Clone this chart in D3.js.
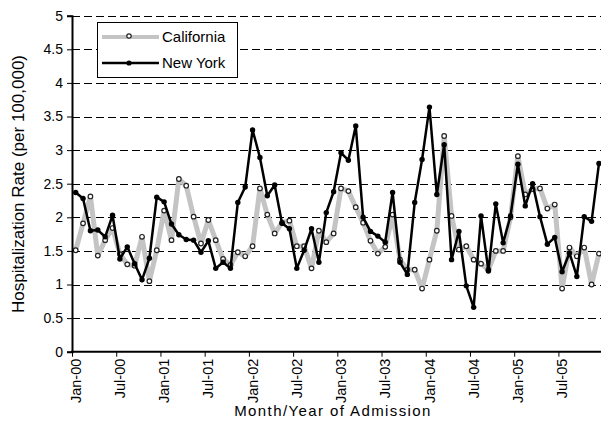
<!DOCTYPE html>
<html><head><meta charset="utf-8">
<script src="https://cdn.jsdelivr.net/npm/d3@7/dist/d3.min.js"></script>
<style>
html,body{margin:0;padding:0;background:#fff;}
svg{display:block;font-family:"Liberation Sans",Arial,sans-serif;}
</style>
</head><body>
<svg id="chart" width="601" height="446"></svg>
<script>
const monthNames = ["Jan","Feb","Mar","Apr","May","Jun","Jul","Aug","Sep","Oct","Nov","Dec"];
const years = ["00","01","02","03","04","05"];
const categories = [];
years.forEach(y => monthNames.forEach(m => categories.push(m + "-" + y)));
const tickLabels = ["Jan-00","Jul-00","Jan-01","Jul-01","Jan-02","Jul-02","Jan-03","Jul-03","Jan-04","Jul-04","Jan-05","Jul-05"];
const yTicks = [0,0.5,1,1.5,2,2.5,3,3.5,4,4.5,5];

const california = [1.51,1.91,2.31,1.43,1.66,1.84,1.45,1.30,1.28,1.71,1.05,1.51,
                    2.10,1.66,2.57,2.47,2.01,1.61,1.96,1.66,1.38,1.29,1.48,1.42,
                    1.57,2.43,2.04,1.76,1.92,1.95,1.57,1.57,1.24,1.80,1.63,1.76,
                    2.43,2.39,2.15,1.92,1.65,1.46,1.56,2.04,1.37,1.22,1.22,0.94,
                    1.37,1.80,3.21,2.02,1.52,1.57,1.37,1.31,1.22,1.50,1.50,2.00,
                    2.91,2.34,2.42,2.43,2.13,2.19,0.94,1.55,1.42,1.55,1.00,1.46];
const newYork    = [2.37,2.28,1.80,1.81,1.71,2.03,1.38,1.56,1.31,1.07,1.39,2.30,
                    2.23,1.90,1.74,1.67,1.66,1.48,1.65,1.24,1.33,1.24,2.22,2.45,
                    3.30,2.89,2.32,2.48,1.91,1.83,1.24,1.51,1.83,1.33,2.07,2.38,
                    2.96,2.85,3.36,2.00,1.79,1.72,1.63,2.37,1.33,1.15,2.22,2.86,
                    3.64,2.34,3.08,1.37,1.79,0.98,0.66,2.02,1.20,2.20,1.62,2.02,
                    2.79,2.17,2.50,2.01,1.60,1.70,1.19,1.47,1.12,2.01,1.94,2.80];

const svg = d3.select("#chart");
const pLeft = 72, pTop = 15.7, pBottom = 351.7, pRight = 72 + 72*7.37;

const x = d3.scaleBand().domain(categories).range([pLeft, pRight]).padding(0);
const xb = d3.scaleLinear().domain([0, categories.length]).range([pLeft, pRight]);
const y = d3.scaleLinear().domain([0, 5]).range([pBottom, pTop]);
const cx = c => x(c) + x.bandwidth()/2;

// gridlines
svg.append("g").selectAll("line").data(yTicks.filter(v => v > 0)).join("line")
  .attr("x1", pLeft).attr("x2", pRight)
  .attr("y1", d => Math.round(y(d)) + 0.5).attr("y2", d => Math.round(y(d)) + 0.5)
  .attr("stroke", "#000").attr("stroke-width", 1).attr("stroke-dasharray", "8,4");

const line = d3.line().x((d,i) => cx(categories[i])).y(d => y(d));

// California
svg.append("path").datum(california).attr("d", line)
  .attr("fill", "none").attr("stroke", "#c4c4c4").attr("stroke-width", 5).attr("stroke-linejoin", "round");
svg.append("g").selectAll("circle").data(california).join("circle")
  .attr("cx", (d,i) => cx(categories[i])).attr("cy", d => y(d)).attr("r", 2.3)
  .attr("fill", "#fff").attr("stroke", "#222").attr("stroke-width", 1.2);

// New York
svg.append("path").datum(newYork).attr("d", line)
  .attr("fill", "none").attr("stroke", "#000").attr("stroke-width", 2.5).attr("stroke-linejoin", "round");
svg.append("g").selectAll("circle").data(newYork).join("circle")
  .attr("cx", (d,i) => cx(categories[i])).attr("cy", d => y(d)).attr("r", 2.7)
  .attr("fill", "#000");

// Y axis
const yAxis = svg.append("g").attr("transform", `translate(${pLeft},0)`)
  .call(d3.axisLeft(y).tickValues(yTicks).tickFormat(d3.format("")).tickSize(5).tickPadding(4));
yAxis.select(".domain").attr("stroke", "#000").attr("stroke-width", 2);
yAxis.selectAll(".tick line").attr("stroke", "#000").attr("stroke-width", 1);
yAxis.selectAll(".tick text").attr("font-size", 14).attr("fill", "#000")
  .attr("font-family", "Liberation Sans, Arial, sans-serif");

// X axis tick marks at category boundaries
const xTickG = svg.append("g").attr("transform", `translate(0,${pBottom})`)
  .call(d3.axisBottom(xb).tickValues(d3.range(0, 72, 6)).tickFormat("").tickSize(5));
xTickG.select(".domain").remove();
xTickG.selectAll(".tick line").attr("stroke", "#000").attr("stroke-width", 1);
svg.append("line").attr("x1", pLeft - 1).attr("x2", pRight).attr("y1", pBottom).attr("y2", pBottom)
  .attr("stroke", "#000").attr("stroke-width", 2);

// X labels at category centres
const xLab = svg.append("g").attr("transform", `translate(0,${pBottom})`)
  .call(d3.axisBottom(x).tickValues(tickLabels).tickSize(0));
xLab.select(".domain").remove();
xLab.selectAll(".tick text")
  .attr("transform", "rotate(-90)").attr("text-anchor", "end")
  .attr("x", -7).attr("y", 0).attr("dy", "0.35em")
  .attr("font-size", 14.5).attr("fill", "#000").attr("font-family", "Liberation Sans, Arial, sans-serif");

// axis titles
svg.append("text").attr("transform", "translate(24,184) rotate(-90)")
  .attr("text-anchor", "middle").attr("font-size", 17).attr("fill", "#000")
  .text("Hospitalization Rate (per 100,000)");
svg.append("text").attr("x", 333).attr("y", 416).attr("text-anchor", "middle")
  .attr("font-size", 15).attr("letter-spacing", 1.4).attr("fill", "#000")
  .text("Month/Year of Admission");

// legend
const lg = svg.append("g");
lg.append("rect").attr("x", 97.5).attr("y", 22.5).attr("width", 140).attr("height", 55)
  .attr("fill", "#fff").attr("stroke", "#000").attr("stroke-width", 1);
lg.append("line").attr("x1", 102).attr("x2", 159).attr("y1", 37).attr("y2", 37)
  .attr("stroke", "#c4c4c4").attr("stroke-width", 4);
lg.append("circle").attr("cx", 129).attr("cy", 36).attr("r", 2.2)
  .attr("fill", "#fff").attr("stroke", "#222").attr("stroke-width", 1.2);
lg.append("text").attr("x", 162).attr("y", 42).attr("font-size", 15).attr("fill", "#000").text("California");
lg.append("line").attr("x1", 102).attr("x2", 159).attr("y1", 63).attr("y2", 63)
  .attr("stroke", "#000").attr("stroke-width", 2.5);
lg.append("circle").attr("cx", 129).attr("cy", 63).attr("r", 2.6).attr("fill", "#000");
lg.append("text").attr("x", 162).attr("y", 68).attr("font-size", 15).attr("fill", "#000").text("New York");
</script>
</body></html>
